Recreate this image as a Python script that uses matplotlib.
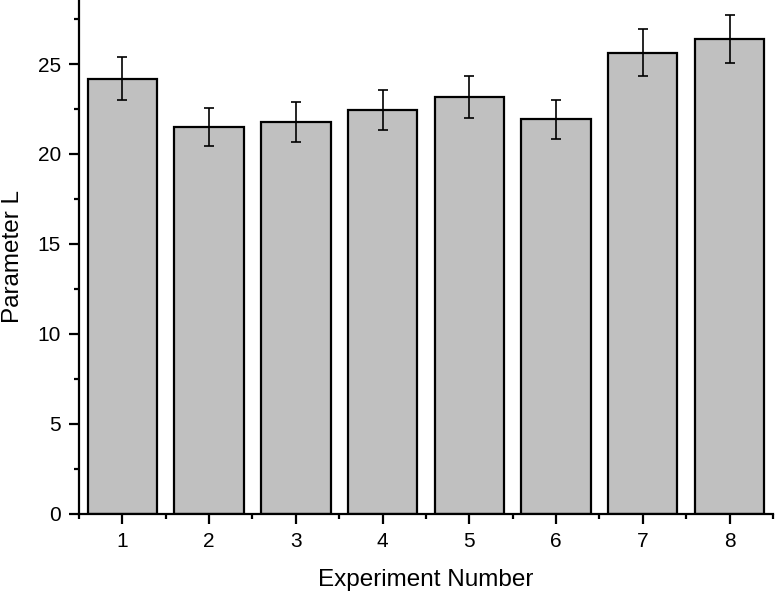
import numpy as np
import matplotlib
matplotlib.use('Agg')
import matplotlib.pyplot as plt
from matplotlib.ticker import MultipleLocator

# values
experiments = [1, 2, 3, 4, 5, 6, 7, 8]
param_L = [24.18, 21.5, 21.77, 22.44, 23.18, 21.92, 25.63, 26.4]
param_err = [1.2, 1.07, 1.1, 1.13, 1.17, 1.1, 1.29, 1.32]

plt.rcParams['font.family'] = ['Liberation Sans', 'DejaVu Sans']

fig = plt.figure(figsize=(7.76, 5.91), dpi=100)
ax = fig.add_axes([0.1018, 0.131, 0.8942, 0.869])

ax.bar(experiments, param_L, width=0.8, color='#c0c0c0',
       edgecolor='black', linewidth=1.6, zorder=2)
ax.errorbar(experiments, param_L, yerr=param_err, fmt='none',
            ecolor='black', elinewidth=1.2, capsize=3.6, capthick=1.2, zorder=3)

ax.set_xlim(0.5, 8.5)
ax.set_ylim(0, 28.56)
ax.set_xticks(experiments)
ax.set_xticks(np.arange(0.5, 9, 1), minor=True)
ax.yaxis.set_major_locator(MultipleLocator(5))
ax.yaxis.set_minor_locator(MultipleLocator(2.5))

for s in ['top', 'right']:
    ax.spines[s].set_visible(False)
for s in ['left', 'bottom']:
    ax.spines[s].set_linewidth(1.6)

ax.tick_params(which='major', direction='out', length=7, width=1.6,
               labelsize=15, pad=6)
ax.tick_params(which='minor', direction='out', length=3.5, width=1.6)

ax.set_xlabel('Experiment Number', fontsize=17.5, labelpad=13)
ax.set_ylabel('Parameter L', fontsize=17.5, labelpad=10)

fig.savefig('out.png', dpi=100)
